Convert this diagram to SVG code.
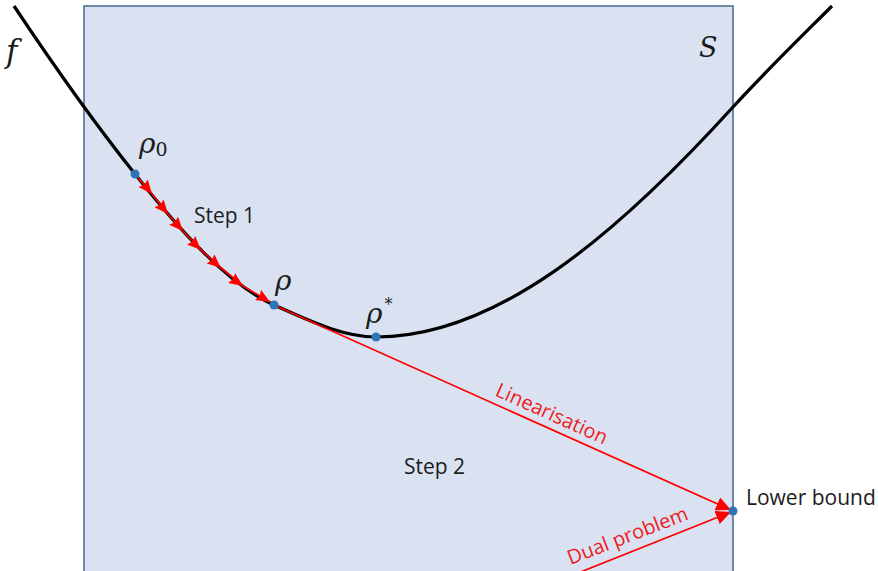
<svg xmlns="http://www.w3.org/2000/svg" width="878" height="571" viewBox="0 0 878 571">
<style>
.lbl{font-family:"Open Sans","Liberation Sans",sans-serif;font-size:21px;fill:#1c1c1c}
.red{font-family:"Open Sans","Liberation Sans",sans-serif;font-size:20px;fill:#ee1c1c}
.math{font-family:"DejaVu Serif","Liberation Serif",serif;font-style:italic;fill:#1c1c1c}
.dot{fill:#2e75b6}
.rline{fill:none;stroke:#ff0000;stroke-width:1.7}
</style>
<defs>
<marker id="ah" markerUnits="userSpaceOnUse" markerWidth="16" markerHeight="14" refX="15" refY="7" orient="auto">
<path d="M0,0 L15,7 L0,14 z" fill="#ff0000"/>
</marker>
<marker id="sh" markerUnits="userSpaceOnUse" markerWidth="15" markerHeight="12" refX="14" refY="6" orient="auto">
<path d="M0,0 L14,6 L0,12 L2,6 z" fill="#ff0000"/>
</marker>
</defs>
<g id="region-S">
<rect x="84" y="6" width="649" height="580" fill="#dae2f2" stroke="#4f6f99" stroke-width="1.6"/>
<text class="math" x="699" y="57" font-size="27">S</text>
</g>
<g id="curve-f">
<path d="M14,6 C54,66 95,124 135,174 C181,232 228,284 274,305 C308,320 342,337 376,337 C495,337 614,238 733,107 C766,71 799,39 832,6" fill="none" stroke="#000" stroke-width="3.2"/>
<text class="math" x="6" y="62" font-size="31">f</text>
</g>
<g id="connectors">
<polyline class="rline" stroke-width="2.4" points="135,174 152,194 168,214 183,231 201,250 221,268 243,286 270,302" marker-mid="url(#sh)" marker-end="url(#sh)"/>
<line class="rline" x1="274" y1="305" x2="731" y2="510" marker-end="url(#ah)"/>
<line class="rline" x1="578" y1="573" x2="731" y2="512" marker-end="url(#ah)"/>
</g>
<g id="step1-labels">
<text class="lbl" x="194" y="223">Step 1</text>
<text class="lbl" x="404" y="474">Step 2</text>
</g>
<g id="edge-labels">
<text class="red" x="0" y="0" text-anchor="middle" transform="translate(549,420) rotate(24.2)">Linearisation</text>
<text class="red" x="0" y="0" text-anchor="middle" transform="translate(630,542) rotate(-21.1)">Dual problem</text>
</g>
<g id="node-rho0">
<circle class="dot" cx="135" cy="174" r="4.5"/>
<text class="math" x="139" y="153" font-size="28">ρ<tspan font-style="normal" font-size="19" dy="3">0</tspan></text>
</g>
<g id="node-rho">
<circle class="dot" cx="274" cy="305" r="4.5"/>
<text class="math" x="275" y="290" font-size="28">ρ</text>
</g>
<g id="node-rhostar">
<circle class="dot" cx="376" cy="337" r="4.5"/>
<text class="math" x="366" y="323" font-size="28">ρ<tspan font-size="16" dy="-13" dx="2">*</tspan></text>
</g>
<g id="node-lower-bound">
<circle class="dot" cx="733" cy="511" r="4.5"/>
<text class="lbl" x="746" y="505" font-size="20">Lower bound</text>
</g>
</svg>
